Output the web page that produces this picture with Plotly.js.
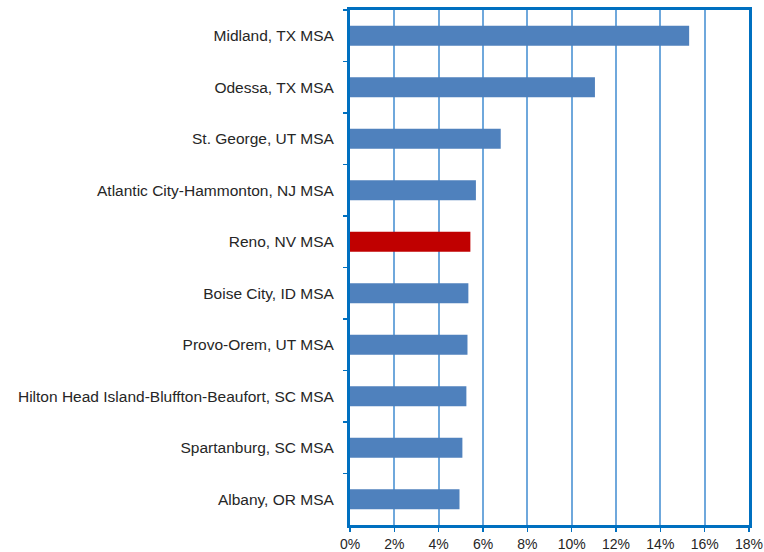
<!DOCTYPE html>
<html>
<head>
<meta charset="utf-8">
<script src="https://cdn.plot.ly/plotly-3.0.1.min.js"></script>
<style>html,body{margin:0;padding:0;background:#fff;}#chart{width:764px;height:552px;}</style>
</head>
<body>
<div id="chart"></div>
<script>
var categories = [
  "Midland, TX MSA",
  "Odessa, TX MSA",
  "St. George, UT MSA",
  "Atlantic City-Hammonton, NJ MSA",
  "Reno, NV MSA",
  "Boise City, ID MSA",
  "Provo-Orem, UT MSA",
  "Hilton Head Island-Bluffton-Beaufort, SC MSA",
  "Spartanburg, SC MSA",
  "Albany, OR MSA"
];
var values = [0.153, 0.1105, 0.068, 0.0568, 0.0543, 0.0534, 0.053, 0.0525, 0.0507, 0.0494];
var highlight = "Reno, NV MSA";
var tickVals = [0, 0.02, 0.04, 0.06, 0.08, 0.10, 0.12, 0.14, 0.16, 0.18];

var colors = categories.map(function(c){ return c === highlight ? "#C00000" : "#4F81BD"; });

var trace = {
  type: "bar",
  orientation: "h",
  y: categories,
  x: values,
  marker: {color: colors, line: {width: 0}},
  hoverinfo: "x+y"
};

var layout = {
  width: 764,
  height: 552,
  margin: {l: 350, r: 15, t: 10, b: 27},
  paper_bgcolor: "#fff",
  plot_bgcolor: "#fff",
  bargap: 0.61,
  showlegend: false,
  font: {family: "Liberation Sans, Arial, sans-serif", size: 14, color: "#262626"},
  xaxis: {
    range: [0, 0.18],
    tickvals: tickVals,
    tickformat: ".0%",
    showgrid: true,
    gridcolor: "#6FA8DC",
    gridwidth: 2,
    zeroline: false,
    showline: true,
    linecolor: "#0070C0",
    linewidth: 3,
    mirror: true,
    ticks: "outside",
    ticklen: 4,
    tickcolor: "#0070C0",
    tickwidth: 1.5,
    tickfont: {size: 14, color: "#262626"},
    fixedrange: true
  },
  yaxis: {
    type: "category",
    autorange: "reversed",
    showgrid: false,
    zeroline: false,
    showline: true,
    linecolor: "#0070C0",
    linewidth: 3,
    mirror: true,
    ticks: "outside",
    ticklen: 4,
    tickcolor: "#0070C0",
    tickwidth: 1.5,
    tickson: "boundaries",
    ticklabelstandoff: 10,
    tickfont: {size: 15.5, color: "#262626"},
    fixedrange: true
  }
};

Plotly.newPlot("chart", [trace], layout, {displayModeBar: false, staticPlot: true});
</script>
</body>
</html>
